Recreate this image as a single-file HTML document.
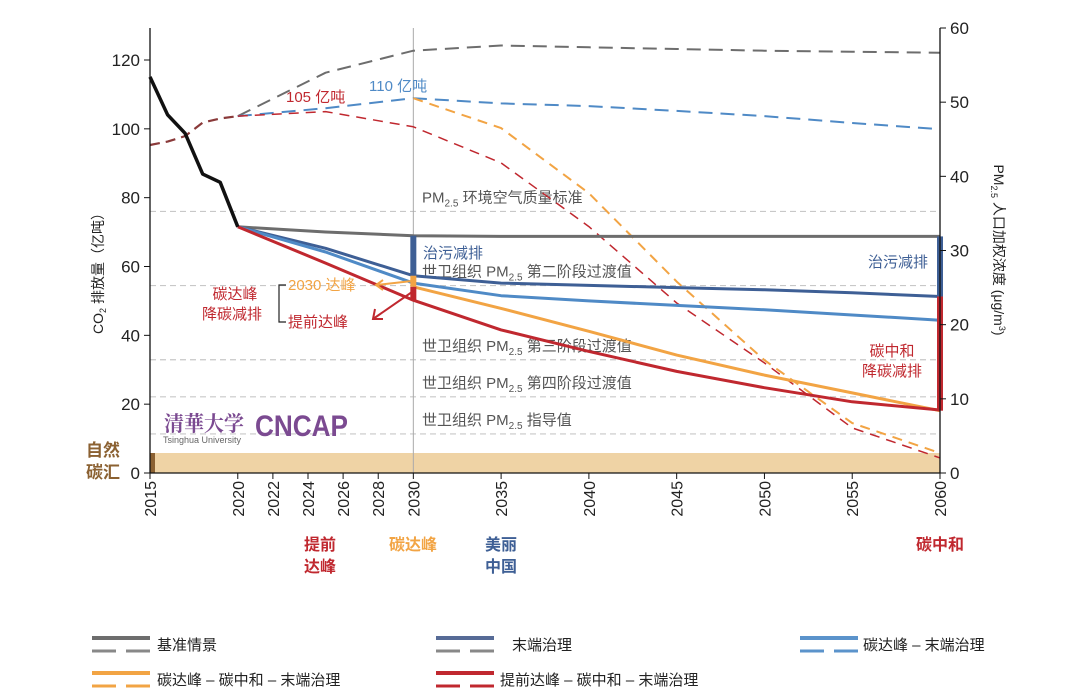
<!DOCTYPE html>
<html><head><meta charset="utf-8">
<style>
html,body{margin:0;padding:0;background:#fff;}
svg{display:block;font-family:"Liberation Sans","Noto Sans CJK SC",sans-serif;}
</style></head>
<body>
<svg id="chart" width="1065" height="699" viewBox="0 0 1065 699" xmlns="http://www.w3.org/2000/svg">
<g id="bg"></g>
<g id="lines"></g>
<g id="fg"></g>
</svg>
<script>
// ---- data ----
const histYears = [2015, 2016, 2017, 2018, 2019, 2020];
const histPM = [53.4, 48.3, 45.8, 40.3, 39.2, 33.2];
const pmYears = [2020, 2025, 2030, 2035, 2040, 2045, 2050, 2055, 2060];
const pmBaseline = [33.2, 32.5, 32.0, 31.9, 31.9, 31.9, 31.9, 31.9, 31.9];
const pmEndTreat = [33.2, 30.3, 26.6, 25.6, 25.3, 25.0, 24.7, 24.3, 23.8];
const pmPeakEnd = [33.2, 29.8, 25.6, 23.9, 23.2, 22.6, 22.0, 21.3, 20.6];
const pmPeakNeutral = [33.2, 29.8, 25.1, 22.2, 19.1, 15.9, 13.2, 10.8, 8.4];
const pmEarlyNeutral = [33.2, 28.3, 23.3, 19.3, 16.4, 13.7, 11.5, 9.6, 8.5];
const co2HistYears = [2015, 2016, 2017, 2018, 2019, 2020];
const co2Hist = [95.3, 96.3, 97.9, 101.8, 103.0, 103.7];
const co2Years = [2020, 2025, 2030, 2035, 2040, 2045, 2050, 2055, 2060];
const co2Baseline = [103.7, 116.3, 122.7, 124.2, 123.7, 123.2, 122.7, 122.4, 122.1];
const co2Peak = [103.7, 106.0, 108.9, 107.4, 106.6, 105.2, 103.7, 101.7, 99.9];
const co2PeakNeutral = [null, null, 108.9, 100.2, 81.3, 55.6, 32.8, 14.5, 5.8];
const co2Early = [103.7, 105.0, 100.6, 90.1, 71.6, 49.4, 32.0, 13.1, 4.4];
const refValues = [35, 25, 15, 10, 5];
const refLabels = ["环境空气质量标准", "第二阶段过渡值", "第三阶段过渡值", "第四阶段过渡值", "指导值"];
const xTicks = [2015, 2020, 2022, 2024, 2026, 2028, 2030, 2035, 2040, 2045, 2050, 2055, 2060];
const leftTicks = [0, 20, 40, 60, 80, 100, 120];
const rightTicks = [0, 10, 20, 30, 40, 50, 60];

// ---- scales ----
const X0 = 150, X1 = 940;
const xs = y => X0 + (y - 2015) * (X1 - X0) / 45;
const yl = v => 473 - v * (413 / 120);
const yr = v => 473 - v * (445 / 60);
const NS = "http://www.w3.org/2000/svg";
function mk(parent, tag, attrs, text) {
  const e = document.createElementNS(NS, tag);
  for (const k in attrs) e.setAttribute(k, attrs[k]);
  if (text !== undefined) e.textContent = text;
  document.getElementById(parent).appendChild(e);
  return e;
}
function pts(xsArr, ys, sc) {
  const out = [];
  xsArr.forEach((x, i) => { if (ys[i] !== null) out.push(xs(x).toFixed(1) + "," + sc(ys[i]).toFixed(1)); });
  return out.join(" ");
}

let e = mk("bg", "rect", {x: X0, y: 453, width: X1 - X0, height: 20, fill: "#efd3a5"});


e = mk("bg", "rect", {x: X0, y: 453, width: 5, height: 20, fill: "#8b6132"});



refValues.forEach((v, i) => {
  const yy = yr(v) - 2;
  const l = mk("bg", "line", {x1: X0, x2: X1, y1: yy, y2: yy, stroke: "#c8c8c8", "stroke-width": 1.2, "stroke-dasharray": "6,4"});
  
  
  const t = mk("bg", "text", {x: 422, y: yy - 9, "font-size": 15, fill: "#555"});
  
  
  const pre = i === 0 ? "PM" : "世卫组织 PM";
  t.innerHTML = pre + '<tspan font-size="10" dy="4">2.5</tspan><tspan dy="-4"> ' + refLabels[i] + '</tspan>';
});
e = mk("bg", "line", {x1: xs(2030), x2: xs(2030), y1: 28, y2: 473, stroke: "#aaa", "stroke-width": 1});



function dline(xa, ya, color, w, dash, name) {
  const p = mk("lines", "polyline", {points: pts(xa, ya, yl), fill: "none", stroke: color, "stroke-width": w, "stroke-dasharray": dash, "stroke-linejoin": "round"});
  
  
}
dline(co2HistYears, co2Hist, "#8a3a3a", 2.2, "10,6", "co2-history-dashed");
dline(co2Years, co2Baseline, "#6d6d6d", 2, "14,8", "co2-baseline-dashed");
dline(co2Years, co2Peak, "#4f8ac6", 2, "14,8", "co2-peak-dashed");
dline(co2Years, co2PeakNeutral, "#f2a444", 2, "10,7", "co2-peak-neutral-dashed");
dline(co2Years, co2Early, "#c0282f", 1.5, "10,7", "co2-early-peak-dashed");

function sline(xa, ya, color, w, name) {
  const p = mk("lines", "polyline", {points: pts(xa, ya, yr), fill: "none", stroke: color, "stroke-width": w, "stroke-linejoin": "round"});
  
  
}
sline(pmYears, pmBaseline, "#6d6d6d", 3, "pm-baseline-line");
sline(pmYears, pmEndTreat, "#3e5f95", 3, "pm-end-treatment-line");
sline(pmYears, pmPeakEnd, "#4f8ac6", 3, "pm-peak-end-treatment-line");
sline(pmYears.slice(2), pmPeakNeutral.slice(2), "#f2a444", 3, "pm-peak-neutral-line");
sline(pmYears, pmEarlyNeutral, "#c0282f", 3, "pm-early-peak-neutral-line");
sline(histYears, histPM, "#111", 3.5, "pm-history-line");

function vbar(x, v1, v2, color, name) {
  const r = mk("fg", "rect", {x: xs(x) - 3, y: yr(v1), width: 6, height: yr(v2) - yr(v1), fill: color});
  
  
}
vbar(2030, pmBaseline[2], pmEndTreat[2], "#3e5f95", "pollution-reduction-bar-2030");
vbar(2030, pmEndTreat[2], pmPeakNeutral[2], "#f2a444", "peak-bar-2030");
vbar(2030, pmPeakNeutral[2], pmEarlyNeutral[2], "#c0282f", "early-peak-bar-2030");
vbar(2060, pmBaseline[8], pmEndTreat[8], "#3e5f95", "pollution-reduction-bar-2060");
vbar(2060, pmEndTreat[8], pmPeakNeutral[8], "#c0282f", "carbon-neutral-bar-2060");

mk("fg", "line", {x1: X0, x2: X0, y1: 28, y2: 473, stroke: "#111", "stroke-width": 1.3});
mk("fg", "line", {x1: X1, x2: X1, y1: 28, y2: 473, stroke: "#111", "stroke-width": 1.3});
mk("fg", "line", {x1: X0, x2: X1, y1: 473, y2: 473, stroke: "#111", "stroke-width": 1.3});
leftTicks.forEach(v => {
  mk("fg", "line", {x1: X0 - 6, x2: X0, y1: yl(v), y2: yl(v), stroke: "#111"});
  const t = mk("fg", "text", {x: X0 - 10, y: yl(v) + 6, "font-size": 17, fill: "#222", "text-anchor": "end"}, v);
  
  
});
rightTicks.forEach(v => {
  mk("fg", "line", {x1: X1, x2: X1 + 6, y1: yr(v), y2: yr(v), stroke: "#111"});
  const t = mk("fg", "text", {x: X1 + 10, y: yr(v) + 6, "font-size": 17, fill: "#222"}, v);
  
  
});
xTicks.forEach(v => {
  mk("fg", "line", {x1: xs(v), x2: xs(v), y1: 473, y2: 479, stroke: "#111"});
  const t = mk("fg", "text", {x: xs(v) + 6, y: 481, "font-size": 16, fill: "#222", "text-anchor": "end", transform: "rotate(-90 " + (xs(v) + 6) + " 481)"}, v);
  
  
});
</script>
<script>
(function(){
const fg = document.getElementById("fg");
fg.insertAdjacentHTML("beforeend", `
<text transform="translate(103 270) rotate(-90)" text-anchor="middle" font-size="14" fill="#222">CO<tspan font-size="9" dy="3">2</tspan><tspan dy="-3"> 排放量（亿吨）</tspan></text>
<text transform="translate(994 250) rotate(90)" text-anchor="middle" font-size="14" fill="#222">PM<tspan font-size="9" dy="3">2.5</tspan><tspan dy="-3"> 人口加权浓度 (μg/m</tspan><tspan font-size="9" dy="-5">3</tspan><tspan dy="5">)</tspan></text>
<text x="286" y="102" font-size="15" fill="#c0282f">105 亿吨</text>
<text x="369" y="91" font-size="15" fill="#4f8ac6">110 亿吨</text>
<text x="423" y="258" font-size="15" fill="#3e5f95">治污减排</text>
<text x="928" y="267" font-size="15" fill="#3e5f95" text-anchor="end">治污减排</text>
<text x="892" y="356" font-size="15" fill="#c0282f" text-anchor="middle">碳中和</text>
<text x="892" y="376" font-size="15" fill="#c0282f" text-anchor="middle">降碳减排</text>
<text x="235" y="299" font-size="15" fill="#c0282f" text-anchor="middle">碳达峰</text>
<text x="232" y="319" font-size="15" fill="#c0282f" text-anchor="middle">降碳减排</text>
<path d="M286 285 H279 V322 H286" fill="none" stroke="#222" stroke-width="1.2"/>
<text x="288" y="290" font-size="15" fill="#f2a444">2030 达峰</text>
<text x="288" y="327" font-size="15" fill="#c0282f">提前达峰</text>
<path d="M412 281 L376 285 M383 280 L376 285 L383 290" fill="none" stroke="#f2a444" stroke-width="2"/>
<path d="M412 292 L373 319 M375 309 L373 319 L383 319" fill="none" stroke="#c0282f" stroke-width="2"/>
<text x="103" y="456" font-size="17" font-weight="bold" fill="#8b6132" text-anchor="middle">自然</text>
<text x="103" y="478" font-size="17" font-weight="bold" fill="#8b6132" text-anchor="middle">碳汇</text>
<text x="164" y="431" font-size="21" fill="#7b4a91" font-family="'Noto Serif CJK SC',serif" font-weight="bold" textLength="80" lengthAdjust="spacingAndGlyphs">清華大学</text>
<text x="163" y="443" font-size="9" fill="#666">Tsinghua University</text>
<text x="255" y="436" font-size="30" font-weight="bold" fill="#7b4a91" textLength="93" lengthAdjust="spacingAndGlyphs">CNCAP</text>
<text x="320" y="550" font-size="16" font-weight="bold" fill="#c0282f" text-anchor="middle">提前</text>
<text x="320" y="572" font-size="16" font-weight="bold" fill="#c0282f" text-anchor="middle">达峰</text>
<text x="413" y="550" font-size="16" font-weight="bold" fill="#f2a444" text-anchor="middle">碳达峰</text>
<text x="501" y="550" font-size="16" font-weight="bold" fill="#3e5f95" text-anchor="middle">美丽</text>
<text x="501" y="572" font-size="16" font-weight="bold" fill="#3e5f95" text-anchor="middle">中国</text>
<text x="940" y="550" font-size="16" font-weight="bold" fill="#c0282f" text-anchor="middle">碳中和</text>
`);
const items = [
 [92, 645, "#6d6d6d", "#888", "基准情景", "legend-baseline", 157],
 [436, 645, "#566b96", "#888", "末端治理", "legend-end-treatment", 512],
 [800, 645, "#5b93cb", "#5b93cb", "碳达峰 – 末端治理", "legend-peak-end-treatment", 863],
 [92, 680, "#f2a444", "#f2a444", "碳达峰 – 碳中和 – 末端治理", "legend-peak-neutral", 157],
 [436, 680, "#c0282f", "#c0282f", "提前达峰 – 碳中和 – 末端治理", "legend-early-peak-neutral", 500]
];
items.forEach(it => {
  const [x, y, c1, c2, label, name, tx] = it;
  fg.insertAdjacentHTML("beforeend",
   `<g>
     <line x1="${x}" x2="${x+58}" y1="${y-7}" y2="${y-7}" stroke="${c1}" stroke-width="4"/>
     <line x1="${x}" x2="${x+58}" y1="${y+6}" y2="${y+6}" stroke="${c2}" stroke-width="3" stroke-dasharray="24,10"/>
     <text x="${tx}" y="${y+5}" font-size="15" fill="#222">${label}</text>
   </g>`);
});
})();
</script>
</body></html>
